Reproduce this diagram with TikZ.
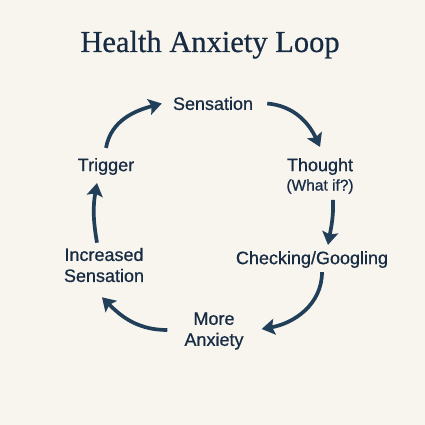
\documentclass[tikz,border=0pt]{standalone}
\usepackage{fontspec}
\setmainfont{Liberation Serif}
\newfontfamily\labelfont[FakeBold=0.7]{Liberation Sans}
\newfontfamily\titlefont[FakeBold=0.6]{Liberation Serif}
\usetikzlibrary{arrows.meta, positioning}
\definecolor{navy}{HTML}{172B42}
\definecolor{arrowblue}{HTML}{213F59}
\definecolor{cream}{HTML}{F8F5EF}

\begin{document}
\begin{tikzpicture}[x=1pt,y=1pt]
\tikzset{stage/.style={inner sep=0pt, align=center, text=navy, font=\labelfont\fontsize{18}{21}\selectfont},
		note/.style={inner sep=0pt, text=navy, font=\labelfont\fontsize{15.5}{18}\selectfont},
		flow/.style={draw=arrowblue, line width=3.7pt, -{Stealth[length=13pt,width=16pt,inset=2.5pt]}}}
\fill[cream] (0,0) rectangle (425,-425);
\node[text=navy, font=\titlefont\fontsize{30.5}{36}\selectfont, anchor=base] (title) at (210,-52) {Health Anxiety Loop};
\node[stage] (sens) at (213,-103.5) {Sensation};
\node[stage] (thought) at (320,-166.5) {Thought};
\node[note, below=4pt of thought] (whatif) {(What if?)};
\node[stage] (chk) at (312,-259.5) {Checking/Googling};
\node[stage] (more) at (214,-331) {More\\Anxiety};
\node[stage] (incr) at (104,-265) {Increased\\Sensation};
\node[stage] (trig) at (106,-166.5) {Trigger};
% the loop
\draw[flow] ([yshift=10pt]trig.north) to[out=80, in=195] ([xshift=-11pt]sens.west);
\draw[flow] ([xshift=14pt]sens.east) to[out=-5, in=115] ([yshift=11pt]thought.north);
\draw[flow] ([xshift=13pt, yshift=-6pt]whatif.south) to[out=-88, in=80] ([xshift=16pt, yshift=6pt]chk.north);
\draw[flow] ([xshift=10pt, yshift=-4pt]chk.south) to[out=-90, in=10] ([xshift=18pt, yshift=2pt]more.east);
\draw[flow] ([xshift=-17pt, yshift=1pt]more.west) to[out=180, in=-45] ([xshift=-2pt, yshift=-15pt]incr.south);
\draw[flow] ([xshift=-7pt, yshift=5pt]incr.north) to[out=100, in=-100] ([xshift=-9pt, yshift=-8pt]trig.south);
\end{tikzpicture}
\end{document}
